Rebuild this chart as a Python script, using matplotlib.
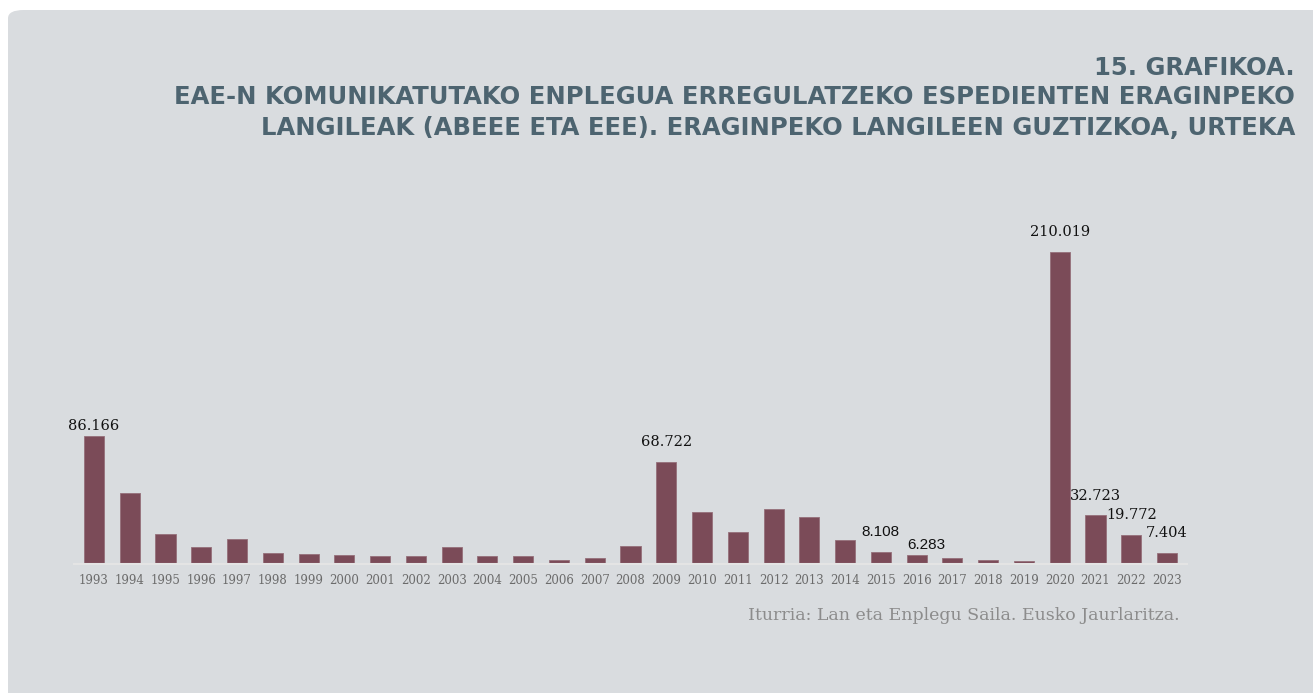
"""
Recreates chart 15: workers affected by employment regulation files (EAE), per year.
"""

import matplotlib
matplotlib.use("Agg")
import matplotlib.pyplot as plt
from matplotlib.patches import FancyBboxPatch

# ==========================================
# DATA
# ==========================================
YEARS = [str(y) for y in range(1993, 2024)]
WORKERS = [86166, 47500, 20200, 11400, 16800, 7200, 6500, 5800, 5200, 5200,
           11400, 5200, 5600, 2700, 4300, 12100, 68722, 35000, 21300, 37000,
           31400, 16100, 8108, 6283, 3800, 2500, 1800, 210019, 32723, 19772, 7404]
LABELLED = {"1993": "86.166", "2009": "68.722", "2015": "8.108", "2016": "6.283",
            "2020": "210.019", "2021": "32.723", "2022": "19.772", "2023": "7.404"}
SANS_LABELS = ["2015", "2016"]

TITLE_NUM = "15. GRAFIKOA."
TITLE_1 = "EAE-N KOMUNIKATUTAKO ENPLEGUA ERREGULATZEKO ESPEDIENTEN ERAGINPEKO"
TITLE_2 = "LANGILEAK (ABEEE ETA EEE). ERAGINPEKO LANGILEEN GUZTIZKOA, URTEKA"
SOURCE = "Iturria: Lan eta Enplegu Saila. Eusko Jaurlaritza."

# ==========================================
# STYLE
# ==========================================
W, H = 1313, 693
PANEL = "#d9dcdf"
BAR = "#7b4b58"
TITLE_COL = "#4d6470"


def main():
    fig = plt.figure(figsize=(W / 100, H / 100), dpi=100, facecolor="white")

    # rounded background panel, kept behind the axes
    panel = FancyBboxPatch((8 / W, -30 / H), 1340 / W, 713 / H,
                           boxstyle="round,pad=0,rounding_size=0.012",
                           transform=fig.transFigure, facecolor=PANEL,
                           edgecolor="none", zorder=-5)
    fig.patches.append(panel)

    # titles (right aligned)
    tx = 1295 / W
    for txt, ypx in [(TITLE_NUM, 68), (TITLE_1, 97), (TITLE_2, 128)]:
        fig.text(tx, 1 - ypx / H, txt, ha="right", va="center",
                 fontsize=17.5, fontweight="bold", color=TITLE_COL,
                 family="DejaVu Sans")

    # bar axes
    ax = fig.add_axes([74.3 / W, 1 - 564 / H, (1186.7 - 74.3) / W, (564 - 230) / H])
    ax.set_zorder(2)
    ax.set_facecolor("none")
    x = list(range(len(YEARS)))
    ax.bar(x, WORKERS, width=0.56, color=BAR, edgecolor="#95707a", linewidth=0.6)
    ax.set_xlim(-0.55, len(YEARS) - 0.45)
    ax.set_ylim(0, 224600)

    # value labels: two of them sit close to their bar, the rest higher up
    close = ["1993", "2016"]
    for i, (yr, v) in enumerate(zip(YEARS, WORKERS)):
        if yr in LABELLED:
            sans = yr in SANS_LABELS
            fam = "Liberation Sans" if sans else "DejaVu Serif"
            dx = 7 if yr == "2016" else 0
            dy = 2 if yr in close else 9
            ax.annotate(LABELLED[yr], (i, v), xytext=(dx, dy),
                        textcoords="offset points", ha="center", va="bottom",
                        fontsize=11 if sans else 10.5, color="#111111", family=fam)

    ax.set_xticks(x)
    ax.set_xticklabels(YEARS, family="DejaVu Serif", fontsize=8.5, color="#6b6b6b")
    ax.tick_params(axis="x", length=0, pad=7)
    ax.set_yticks([])
    for s in ["top", "right", "left"]:
        ax.spines[s].set_visible(False)
    ax.spines["bottom"].set_color("#e4e4e4")
    ax.spines["bottom"].set_linewidth(1.5)

    fig.text(1180 / W, 1 - 615 / H, SOURCE, ha="right", va="center",
             fontsize=12.5, color="#8c8c8c", family="DejaVu Serif")

    fig.savefig("out.png", dpi=100, facecolor="white")


if __name__ == "__main__":
    main()
